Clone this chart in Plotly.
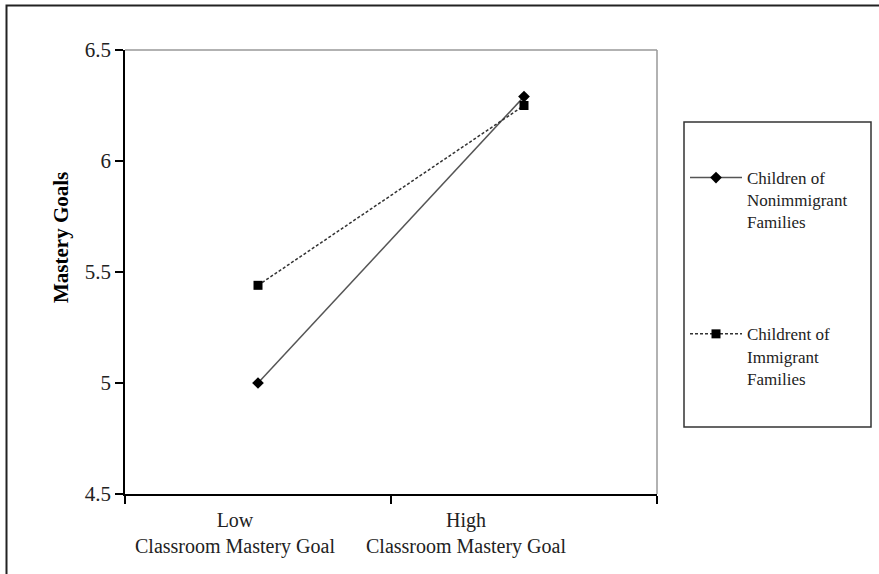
import plotly.graph_objects as go

categories = ["Low<br>Classroom Mastery Goal", "High<br>Classroom Mastery Goal"]
x_pos = [0, 1]
nonimmigrant = [5.0, 6.29]
immigrant = [5.44, 6.25]
series_names = ["Children of<br>Nonimmigrant<br>Families", "Childrent of<br>Immigrant<br>Families"]
y_ticks = [4.5, 5, 5.5, 6, 6.5]

FONT = "Liberation Serif"

L, R, T, B = 125, 222, 50, 80
W, H = 879, 574
pw, ph = W - L - R, H - T - B
def px(x):
    return (x - L) / pw
def py(y):
    return (H - B - y) / ph

fig = go.Figure()
fig.add_trace(go.Scatter(
    x=x_pos, y=nonimmigrant, name=series_names[0], mode="lines+markers",
    line=dict(color="#555555", width=1.5),
    marker=dict(symbol="diamond", size=9, color="black"),
    legendgroup="a",
))
fig.add_trace(go.Scatter(
    x=x_pos, y=immigrant, name=series_names[1], mode="lines+markers",
    line=dict(color="#333333", width=1.5, dash="3px,2px"),
    marker=dict(symbol="square", size=9, color="black"),
    legendgroup="b",
))

# category labels
label_shift = [-23, -58]
for i, lab in enumerate(categories):
    fig.add_annotation(x=x_pos[i], y=0, xref="x", yref="paper", yanchor="top",
                       xshift=label_shift[i], yshift=-13, text=lab, showarrow=False,
                       font=dict(family=FONT, size=20, color="#222"), align="center")

fig.add_annotation(x=px(47), y=py(238), xref="paper", yref="paper", text="<b>Mastery Goals</b>",
                   showarrow=False, textangle=-90,
                   font=dict(family=FONT, size=21, color="black"))

shapes = [
    dict(type="line", xref="paper", yref="paper", x0=0, x1=1, y0=1, y1=1,
         line=dict(color="#999999", width=1.5)),
    dict(type="line", xref="paper", yref="paper", x0=1, x1=1, y0=0, y1=1,
         line=dict(color="#999999", width=1.5)),
    dict(type="rect", xref="paper", yref="paper", x0=px(684), x1=px(871), y0=py(427), y1=py(122),
         line=dict(color="#333333", width=1.5)),
    dict(type="rect", xref="paper", yref="paper", x0=px(6.5), x1=px(900), y0=py(600), y1=py(5.5),
         line=dict(color="#222222", width=2)),
]
fig.update_layout(shapes=shapes)

fig.update_layout(
    width=W, height=H,
    margin=dict(l=L, r=R, t=T, b=B),
    paper_bgcolor="white", plot_bgcolor="white",
    font=dict(family=FONT, size=20, color="black"),
    showlegend=True,
    legend=dict(x=px(685), y=py(160), xanchor="left", yanchor="top",
                font=dict(family=FONT, size=17, color="#222"),
                tracegroupgap=87, valign="top", bgcolor="rgba(0,0,0,0)",
                itemwidth=52),
    xaxis=dict(range=[-0.5, 1.5], tickvals=x_pos, showticklabels=False, ticks="",
               showgrid=False, zeroline=False, showline=True, linecolor="black", linewidth=1.5,
               minor=dict(tickvals=[-0.5, 0.5, 1.5], ticks="outside", ticklen=8,
                          tickcolor="black", tickwidth=1.5, showgrid=False)),
    yaxis=dict(range=[4.5, 6.5], tickvals=y_ticks, ticktext=[str(v) for v in y_ticks], ticks="outside", ticklen=8,
               tickcolor="black", tickwidth=1.5, showgrid=False, zeroline=False,
               showline=True, linecolor="black", linewidth=1.5,
               tickfont=dict(family=FONT, size=21, color="#222")),
)

fig.write_html("out.html", config={"displayModeBar": False},
               post_script="document.body.style.margin='0px';")
